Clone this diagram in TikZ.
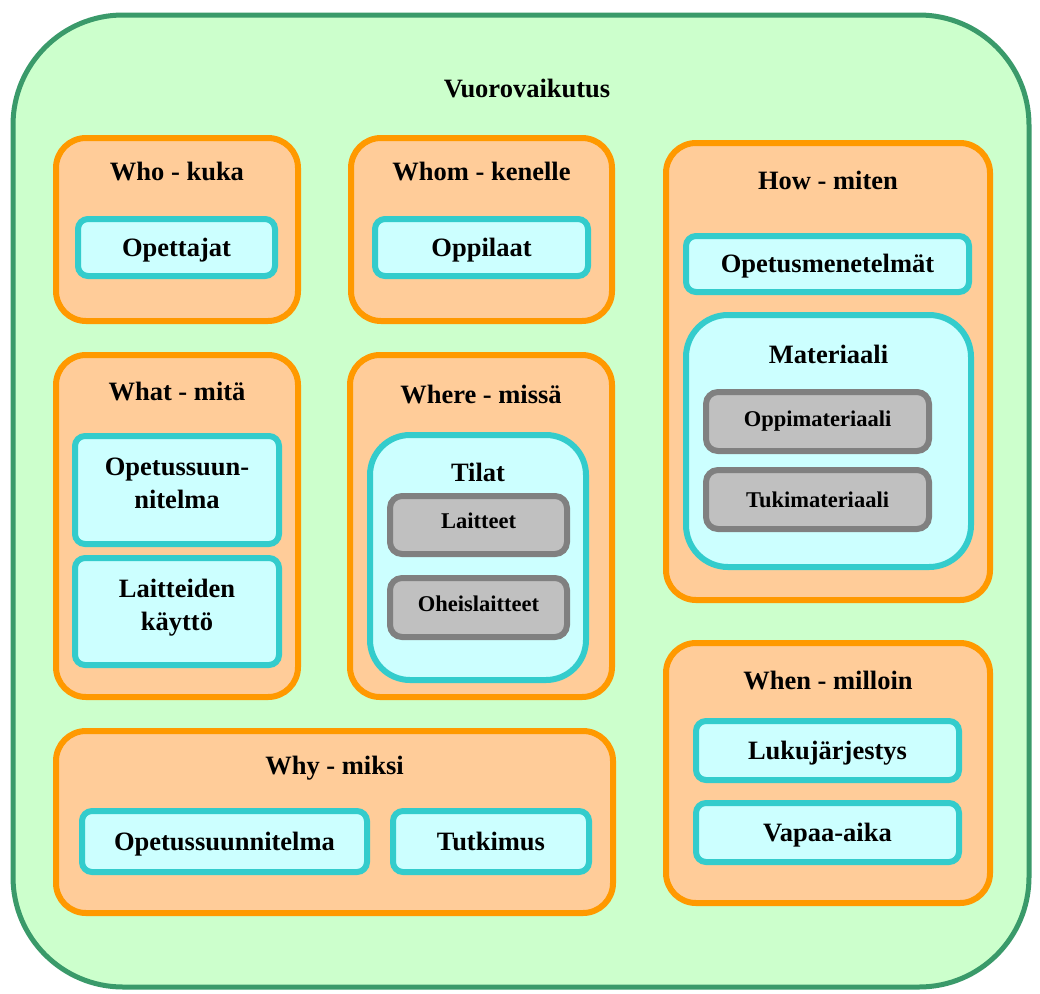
\documentclass[tikz,border=0pt]{standalone}
\usepackage{fontspec}
\setmainfont{Liberation Serif}
\usepackage{xcolor}
\usepackage{tikz}
\usetikzlibrary{positioning}
\definecolor{framegreen}{HTML}{3A9A6A}
\definecolor{bggreen}{HTML}{CCFFCC}
\definecolor{grouporange}{HTML}{FF9900}
\definecolor{grouppeach}{HTML}{FFCC99}
\definecolor{itemcyan}{HTML}{33CCCC}
\definecolor{itemlight}{HTML}{CCFFFF}
\definecolor{leafgray}{HTML}{808080}
\definecolor{leaflight}{HTML}{C0C0C0}
\tikzset{
  frame/.style={draw=framegreen, fill=bggreen, line width=5pt, rounded corners=110pt},
  group/.style={draw=grouporange, fill=grouppeach, line width=6pt, rounded corners=30pt},
  item/.style={draw=itemcyan, fill=itemlight, line width=6pt, rounded corners=10pt, align=center},
  oneline/.style={text height=17.5pt, text depth=0pt},
  twoline/.style={text depth=14pt},
  subgroup/.style={draw=itemcyan, fill=itemlight, line width=6pt, rounded corners=42pt},
  leaf/.style={draw=leafgray, fill=leaflight, line width=6pt, rounded corners=12pt, font=\bfseries\fontsize{22.5}{26}\selectfont},
  title/.style={font=\bfseries\fontsize{26.5}{31}\selectfont},
  every node/.style={font=\bfseries\fontsize{26.5}{33}\selectfont, inner sep=0pt}
}
\begin{document}
\begin{tikzpicture}[x=1pt, y=-1pt]
    \useasboundingbox (0,0) rectangle (1040,993);
    \node[frame, minimum width=1016pt, minimum height=972pt] (all) at (521,501) {};
    \node[title] (allt) at (527,89) {Vuorovaikutus};

    % who
    \node[group, minimum width=242pt, minimum height=183pt] (who) at (177,229.5) {};
    \node[title] (whot) at (177,172) {Who - kuka};
    \node[item, oneline, minimum width=197pt, minimum height=57pt] (teach) at (176.5,247.5) {Opettajat};

    % whom
    \node[group, minimum width=261pt, minimum height=183pt] (whom) at (481.5,229.5) {};
    \node[title] (whomt) at (481.5,172) {Whom - kenelle};
    \node[item, oneline, minimum width=213pt, minimum height=57pt] (pupil) at (481.5,247.5) {Oppilaat};

    % how
    \node[group, minimum width=324pt, minimum height=457pt] (how) at (828,371.5) {};
    \node[title] (howt) at (828,180) {How - miten};
    \node[item, oneline, minimum width=283pt, minimum height=56pt] (method) at (827.5,264) {Opetusmenetelmät};
    \node[subgroup, minimum width=285pt, minimum height=252pt] (mat) at (828.5,441) {};
    \node[title] (matt) at (828.5,354) {Materiaali};
    \node[leaf, minimum width=223pt, minimum height=59pt] (learnmat) at (817.5,421.5) {Oppimateriaali};
    \node[leaf, minimum width=223pt, minimum height=59pt] (supmat) at (817.5,499.5) {Tukimateriaali};

    % what
    \node[group, minimum width=242pt, minimum height=342pt] (what) at (177,526) {};
    \node[title] (whatt) at (177,392) {What - mitä};
    \node[item, twoline, minimum width=204pt, minimum height=108pt] (plan) at (177,490) {Opetussuun-\\nitelma};
    \node[item, twoline, minimum width=204pt, minimum height=107pt] (use) at (177,611.5) {Laitteiden\\käyttö};

    % where
    \node[group, minimum width=262pt, minimum height=342pt] (where) at (481,526) {};
    \node[title] (wheret) at (481,394) {Where - missä};
    \node[subgroup, rounded corners=40pt, minimum width=216pt, minimum height=245pt] (room) at (478,557.5) {};
    \node[title] (roomt) at (478,472) {Tilat};
    \node[leaf, minimum width=177pt, minimum height=58pt, text depth=8pt] (dev) at (478.5,525) {Laitteet};
    \node[leaf, minimum width=177pt, minimum height=59pt, text depth=8pt] (periph) at (478.5,607.5) {Oheislaitteet};

    % why
    \node[group, minimum width=557pt, minimum height=182pt] (why) at (334.5,822) {};
    \node[title] (whyt) at (334.5,768) {Why - miksi};
    \node[item, oneline, minimum width=285pt, minimum height=61pt] (curr) at (224.5,841.5) {Opetussuunnitelma};
    \node[item, oneline, minimum width=196pt, minimum height=61pt] (research) at (491,841.5) {Tutkimus};

    % when
    \node[group, minimum width=324pt, minimum height=260pt] (when) at (828,773) {};
    \node[title] (whent) at (828,680) {When - milloin};
    \node[item, oneline, minimum width=263pt, minimum height=59pt] (sched) at (827.5,750.5) {Lukujärjestys};
    \node[item, oneline, minimum width=263pt, minimum height=59pt] (free) at (827.5,832.5) {Vapaa-aika};
\end{tikzpicture}
\end{document}
